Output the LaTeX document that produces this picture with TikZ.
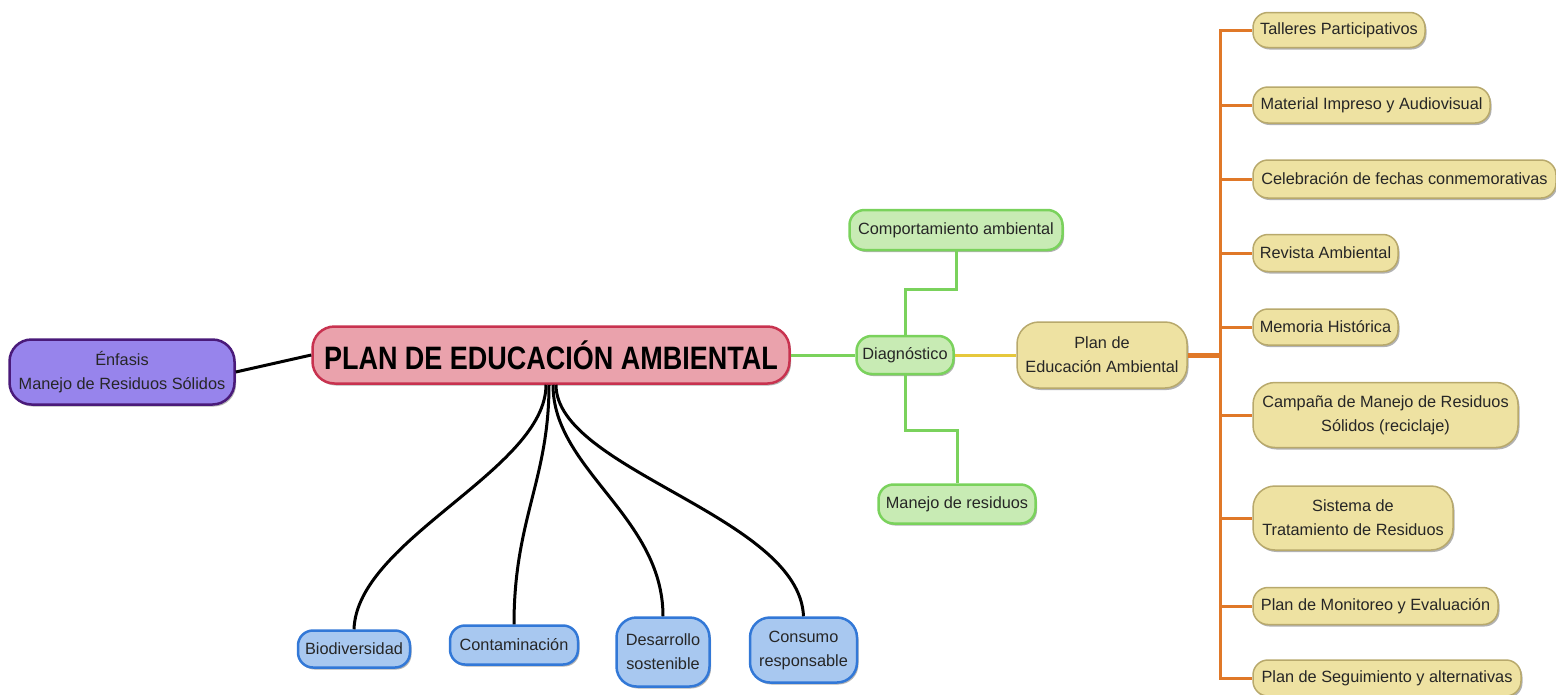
\documentclass[tikz,border=0pt]{standalone}
\usepackage{fontspec}
\setmainfont{Liberation Sans}
\usetikzlibrary{shadows,calc}
\definecolor{txt}{HTML}{262626}
\definecolor{purfill}{HTML}{9784EC}
\definecolor{purdraw}{HTML}{4A1A7A}
\definecolor{pinkfill}{HTML}{EAA2AC}
\definecolor{pinkdraw}{HTML}{C8324F}
\definecolor{grfill}{HTML}{C8EBB4}
\definecolor{grdraw}{HTML}{7AD25C}
\definecolor{yefill}{HTML}{EEE2A2}
\definecolor{yedraw}{HTML}{B8A96C}
\definecolor{blfill}{HTML}{A8C8F0}
\definecolor{bldraw}{HTML}{3278D7}
\definecolor{orline}{HTML}{E07828}
\definecolor{yeline}{HTML}{E6C83C}
\begin{document}
\begin{tikzpicture}[x=1pt,y=-1pt,
  box/.style={rounded corners=15pt, line width=2.5pt, inner sep=0pt, align=center,
    text=txt, font=\fontsize{16.3}{24}\selectfont, anchor=center,
    drop shadow={shadow xshift=1.5pt, shadow yshift=-2pt, opacity=0.3, fill=black}},
  purbox/.style={box, fill=purfill, draw=purdraw, rounded corners=22pt},
  mainbox/.style={box, fill=pinkfill, draw=pinkdraw, rounded corners=22pt,
    font=\fontsize{27}{30}\selectfont\bfseries, text=black},
  grbox/.style={box, fill=grfill, draw=grdraw},
  yebox/.style={box, fill=yefill, draw=yedraw, line width=1.5pt},
  blbox/.style={box, fill=blfill, draw=bldraw},
  blk/.style={line width=3pt, black},
  grl/.style={line width=3pt, grdraw},
  orl/.style={line width=3pt, orline},
]
\useasboundingbox (0,0) rectangle (1556,694);

% nodes
\node[purbox, minimum width=225pt, minimum height=65pt] (enf) at (122,372) {Énfasis\\Manejo de Residuos Sólidos};
\node[mainbox, minimum width=477pt, minimum height=57pt] (main) at (551,355) {\scalebox{1}[1.2]{PLAN DE EDUCACIÓN AMBIENTAL}};

\node[grbox, minimum width=97pt, minimum height=38pt] (diag) at (905,355) {Diagnóstico};
\node[grbox, minimum width=213pt, minimum height=40pt] (comp) at (956,230) {Comportamiento ambiental};
\node[grbox, minimum width=157pt, minimum height=39pt] (manres) at (957,504) {Manejo de residuos};

\node[yebox, minimum width=170pt, minimum height=66pt, rounded corners=22pt] (plan) at (1102,355) {Plan de\\Educación Ambiental};

\node[yebox, minimum width=172pt, minimum height=35pt] (tal) at (1339,30) {Talleres Participativos};
\node[yebox, minimum width=237pt, minimum height=36pt] (mat) at (1371.5,105) {Material Impreso y Audiovisual};
\node[yebox, minimum width=303pt, minimum height=38pt] (cel) at (1404.5,179) {Celebración de fechas conmemorativas};
\node[yebox, minimum width=145pt, minimum height=37pt] (rev) at (1325.5,253) {Revista Ambiental};
\node[yebox, minimum width=145pt, minimum height=36pt] (mem) at (1325.5,327) {Memoria Histórica};
\node[yebox, minimum width=265pt, minimum height=65pt, rounded corners=22pt] (cam) at (1385.5,415) {Campaña de Manejo de Residuos\\Sólidos (reciclaje)};
\node[yebox, minimum width=200pt, minimum height=64pt, rounded corners=22pt] (sis) at (1353,518) {Sistema de\\Tratamiento de Residuos};
\node[yebox, minimum width=245pt, minimum height=37pt] (mon) at (1375.5,606) {Plan de Monitoreo y Evaluación};
\node[yebox, minimum width=268pt, minimum height=36pt] (seg) at (1387,678) {Plan de Seguimiento y alternativas};

\node[blbox, minimum width=112pt, minimum height=37pt] (bio) at (354,649) {Biodiversidad};
\node[blbox, minimum width=128pt, minimum height=39pt] (con) at (514,645) {Contaminación};
\node[blbox, minimum width=93pt, minimum height=69pt, rounded corners=20pt] (des) at (663,652) {Desarrollo\\sostenible};
\node[blbox, minimum width=107pt, minimum height=65pt, rounded corners=20pt] (cons) at (803.5,650) {Consumo\\responsable};

% connectors
\draw[blk] (enf.east) -- (main.west);
\draw[blk] ($(main.south)+(-5,0)$) .. controls ($(main.south)+(-5,85)$) and ($(bio.north)+(3,-90)$) .. (bio.north);
\draw[blk] ($(main.south)+(-2,0)$) .. controls ($(main.south)+(-2,95)$) and ($(con.north)+(0,-105)$) .. (con.north);
\draw[blk] ($(main.south)+(2,0)$) .. controls ($(main.south)+(2,85)$) and ($(des.north)+(0,-100)$) .. (des.north);
\draw[blk] ($(main.south)+(5,0)$) .. controls ($(main.south)+(5,85)$) and ($(cons.north)+(-4,-100)$) .. (cons.north);

\draw[grl] (main.east) -- (diag.west);
\draw[grl] (diag.north) -- ++(0,-45) -| (comp.south);
\draw[grl] (diag.south) -- ++(0,55) -| (manres.north);
\draw[line width=3pt, yeline] (diag.east) -- (plan.west);

\coordinate (bus) at (1220,355);
\draw[line width=5pt, orline] (plan.east) -- (bus);
\foreach \n in {tal,mat,cel,rev,mem,cam,sis,mon,seg}
  \draw[orl] (bus) |- (\n.west);
\end{tikzpicture}
\end{document}
